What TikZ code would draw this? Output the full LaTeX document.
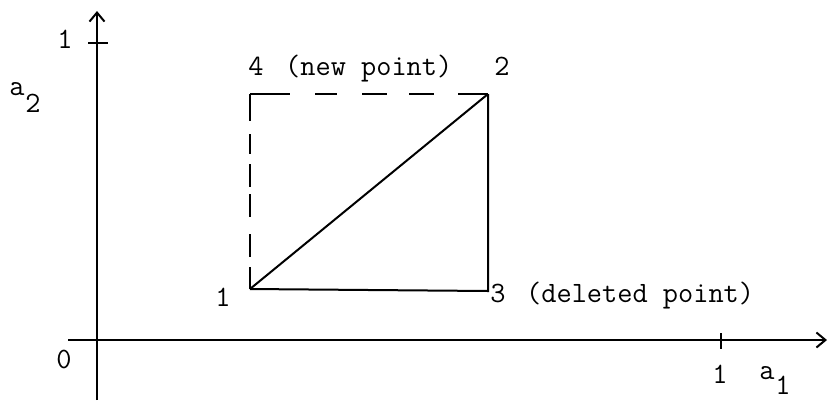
\documentclass[tikz,border=0pt]{standalone}
\usetikzlibrary{arrows.meta}
\begin{document}
\begin{tikzpicture}[x=1pt,y=-1pt,
  lbl/.style={inner sep=0pt,anchor=base,font=\ttfamily\fontsize{29.5}{32}\selectfont},
  lblw/.style={lbl,anchor=base west},
  ln/.style={line width=2pt},
  axarrow/.style={line width=2pt,-{Straight Barb[length=9pt,width=15pt,line width=2pt]}}]
\useasboundingbox (0,0) rectangle (828,400);
% axes
\coordinate (yb) at (97,400);
\coordinate (yt) at (97,11);
\coordinate (xl) at (68,340);
\coordinate (xr) at (827,340);
\draw[axarrow] (yb) -- (yt);
\draw[axarrow] (xl) -- (xr);
% ticks
\coordinate (ty1) at (88,43);
\coordinate (ty2) at (108,43);
\draw[ln] (ty1) -- (ty2);
\coordinate (tx1) at (721,333);
\coordinate (tx2) at (721,349);
\draw[ln] (tx1) -- (tx2);
% points
\coordinate (p1) at (250,289);
\coordinate (p2) at (488,94);
\coordinate (p3) at (488,291);
\coordinate (p4) at (250,94);
\draw[ln] (p1) -- (p2);
\draw[ln] (p1) -- (p3) -- (p2);
\draw[ln,dash pattern=on 40pt off 25pt on 22pt off 25pt on 25pt off 22pt on 25pt off 24pt on 40pt off 10pt] (p4) -- (p2);
\draw[ln,dash pattern=on 27pt off 13pt on 20pt off 10pt on 23pt off 7pt on 23pt off 17pt on 23pt off 10pt on 40pt off 10pt] (p4) -- (p1);
% labels
\node[lbl] (l1y) at (65,48) {1};
\node[lbl] (a2a) at (17,95) {a};
\node[lbl] (a2s) at (33,112) {2};
\node[lbl] (l0) at (64,368) {0};
\node[lbl] (l1x) at (720,383) {1};
\node[lbl] (a1a) at (767,379) {a};
\node[lbl] (a1s) at (783,394) {1};
\node[lbl] (n1) at (223,306) {1};
\node[lbl] (n3) at (498,302) {3};
\node[lblw] (n3t) at (526,302) {(deleted point)};
\node[lbl] (n4) at (256,75) {4};
\node[lblw] (n4t) at (285,75) {(new point)};
\node[lbl] (n2) at (502,75) {2};
\end{tikzpicture}
\end{document}
